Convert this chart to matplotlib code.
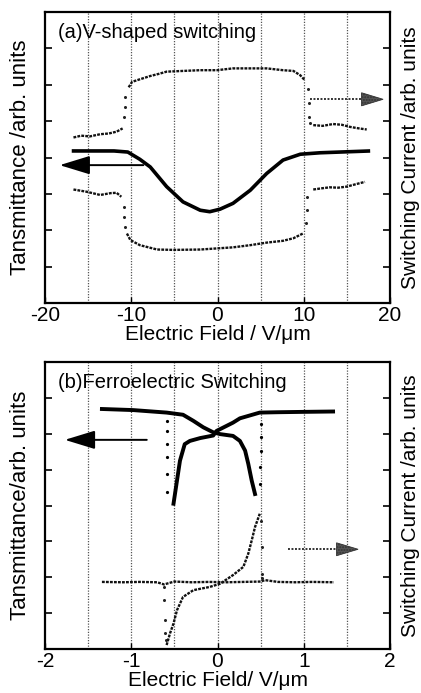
import matplotlib
matplotlib.use("Agg")
import matplotlib.pyplot as plt
from matplotlib.patches import Polygon

plt.rcParams['font.family'] = ['Liberation Sans', 'DejaVu Sans']
plt.rcParams['axes.unicode_minus'] = False

# ---------------- Panel (a) data ----------------
a_xticks = [-20, -10, 0, 10, 20]
a_grid = [-15, -10, -5, 0, 5, 10, 15]

a_T_x = [-16.9, -12.0, -10.4, -9.0, -7.8, -5.9, -4.0, -2.0, -0.9, 0.3, 1.8, 3.8, 5.7, 7.6, 9.6, 11.9, 17.7]
a_T_y = [4.18, 4.18, 4.15, 3.95, 3.74, 3.20, 2.78, 2.55, 2.51, 2.58, 2.74, 3.10, 3.56, 3.93, 4.09, 4.13, 4.18]

a_up_left_x = [-16.7, -15.8, -14.8, -13.6, -12.6, -11.7, -11.0]
a_up_left_y = [4.55, 4.60, 4.58, 4.64, 4.66, 4.71, 4.80]
a_up_jump1_x = [-10.8, -10.75, -10.7]
a_up_jump1_y = [5.12, 5.39, 5.67]
a_up_mid_x = [-10.3, -9.9, -9.0, -7.8, -6.8, -5.9, -4.0, -2.0, -0.1, 1.8, 3.8, 5.7, 7.6, 8.8, 9.6, 10.1]
a_up_mid_y = [5.93, 6.08, 6.15, 6.24, 6.30, 6.36, 6.38, 6.40, 6.40, 6.45, 6.45, 6.45, 6.40, 6.38, 6.26, 6.13]
a_up_jump2_x = [10.5, 10.6, 10.65, 10.7]
a_up_jump2_y = [5.87, 5.50, 5.10, 4.95]
a_up_right_x = [11.1, 12.2, 13.4, 14.4, 15.4, 16.4, 17.3]
a_up_right_y = [4.89, 4.87, 4.92, 4.90, 4.84, 4.80, 4.77]

a_lo_left_x = [-16.7, -15.2, -13.6, -12.4, -11.7, -11.15]
a_lo_left_y = [3.12, 3.06, 2.97, 3.02, 3.03, 2.92]
a_lo_jump1_x = [-10.85, -10.8, -10.75]
a_lo_jump1_y = [2.65, 2.37, 2.10]
a_lo_mid_x = [-10.5, -10.1, -9.0, -7.0, -5.1, -2.0, -0.1, 1.8, 3.8, 5.7, 7.6, 8.8, 9.9]
a_lo_mid_y = [1.91, 1.73, 1.59, 1.47, 1.46, 1.47, 1.50, 1.53, 1.59, 1.66, 1.71, 1.78, 1.91]
a_lo_jump2_x = [10.3, 10.35, 10.4]
a_lo_jump2_y = [2.19, 2.56, 2.92]
a_lo_right_x = [11.1, 12.0, 13.0, 14.0, 15.0, 16.1, 17.1]
a_lo_right_y = [3.12, 3.15, 3.18, 3.17, 3.20, 3.27, 3.33]

# ---------------- Panel (b) data ----------------
b_xticks = [-2, -1, 0, 1, 2]
b_grid = [-1.5, -1, -0.5, 0, 0.5, 1, 1.5]

b_T1_x = [-1.34, -0.98, -0.59, -0.40, -0.28, -0.165, -0.05, 0.03, 0.18, 0.26, 0.32, 0.357, 0.397, 0.435]
b_T1_y = [6.69, 6.66, 6.59, 6.53, 6.36, 6.18, 6.04, 5.99, 5.94, 5.80, 5.53, 5.16, 4.69, 4.32]
b_T1_jump_x = [0.49, 0.49, 0.50, 0.50, 0.50]
b_T1_jump_y = [4.60, 5.06, 5.53, 5.90, 6.27]
b_T2_x = [1.34, 1.0, 0.7, 0.49, 0.26, 0.18, -0.01, -0.05, -0.2, -0.32, -0.38, -0.435, -0.47, -0.51]
b_T2_y = [6.62, 6.61, 6.60, 6.59, 6.43, 6.31, 6.08, 5.95, 5.88, 5.80, 5.71, 5.25, 4.69, 4.05]
b_T2_jump_x = [-0.58, -0.58, -0.58, -0.58, -0.58, -0.58]
b_T2_jump_y = [6.36, 6.08, 5.71, 5.34, 4.88, 4.37]

b_base_x = [-1.34, -1.1, -0.9, -0.7, -0.62, -0.5, -0.3, -0.1, 0.1, 0.3, 0.5, 0.55, 0.7, 0.9, 1.1, 1.35]
b_base_y = [1.87, 1.86, 1.87, 1.86, 1.80, 1.88, 1.86, 1.87, 1.86, 1.87, 1.88, 1.92, 1.87, 1.86, 1.87, 1.86]
b_neg_jump_x = [-0.62, -0.62, -0.61, -0.61, -0.60]
b_neg_jump_y = [1.73, 1.36, 0.80, 0.45, 0.25]
b_S_x = [-0.59, -0.55, -0.51, -0.47, -0.40, -0.28, -0.09, 0.03, 0.18, 0.30, 0.357, 0.397, 0.435, 0.49]
b_S_y = [0.11, 0.44, 0.71, 1.08, 1.45, 1.64, 1.73, 1.82, 2.06, 2.29, 2.66, 3.03, 3.40, 3.77]
b_pos_jump_x = [0.51, 0.515, 0.52, 0.52]
b_pos_jump_y = [3.58, 2.84, 2.10, 1.97]

FIG_W, FIG_H = 421, 693
fig = plt.figure(figsize=(FIG_W / 100, FIG_H / 100), dpi=100)


def px_axes(left, top, right, bottom):
    return fig.add_axes([left / FIG_W, 1 - bottom / FIG_H, (right - left) / FIG_W, (bottom - top) / FIG_H])


def style(ax, xlim, xticks, grid):
    ax.set_xlim(*xlim)
    ax.set_ylim(0, 8)
    for g in grid:
        ax.axvline(g, ls=(0, (1, 1.2)), color='#555555', lw=0.9, zorder=0)
    ax.set_xticks(xticks)
    ax.set_xticklabels([str(t) for t in xticks])
    ax.set_yticks(range(1, 8))
    ax.tick_params(axis='y', direction='in', left=True, right=True, labelleft=False,
                   length=5, width=1.2)
    ax.tick_params(axis='x', direction='in', bottom=True, top=False, length=4, width=1.0,
                   labelsize=15, pad=2)
    for s in ax.spines.values():
        s.set_linewidth(1.6)


def cur(ax, x, y):
    ax.plot(x, y, color='#111111', lw=1.7, ls=(0, (1.2, 0.5)), zorder=3)


def dots(ax, x, y, ms=2.2, c='#222222'):
    ax.plot(x, y, ls='none', marker='o', ms=ms, mec='none', mfc=c, zorder=3)


def solid_arrow(ax, x_tail, x_tip, y):
    ax.annotate('', xy=(x_tip, y), xytext=(x_tail, y),
                arrowprops=dict(arrowstyle='-|>,head_length=0.85,head_width=0.26',
                                color='black', lw=1.4, mutation_scale=22,
                                shrinkA=0, shrinkB=0), zorder=4)


def dotted_arrow(ax, x_tail, x_base, x_tip, y, hh):
    ax.plot([x_tail, x_base], [y, y], ls=(0, (1, 0.8)), color='#333333', lw=1.4, zorder=4)
    tri = Polygon([(x_base, y + hh), (x_base, y - hh), (x_tip, y)], closed=True,
                  facecolor='#555555', edgecolor='#333333', hatch='......', lw=0.6, zorder=4)
    ax.add_patch(tri)


# ---------------- Panel (a) ----------------
axa = px_axes(45, 12, 390, 303)
style(axa, (-20, 20), a_xticks, a_grid)
axa.plot(a_T_x, a_T_y, color='black', lw=2.6, zorder=3, solid_capstyle='butt')
cur(axa, a_up_left_x, a_up_left_y)
dots(axa, a_up_jump1_x, a_up_jump1_y)
cur(axa, a_up_mid_x, a_up_mid_y)
dots(axa, a_up_jump2_x, a_up_jump2_y)
cur(axa, a_up_right_x, a_up_right_y)
cur(axa, a_lo_left_x, a_lo_left_y)
dots(axa, a_lo_jump1_x, a_lo_jump1_y)
cur(axa, a_lo_mid_x, a_lo_mid_y)
dots(axa, a_lo_jump2_x, a_lo_jump2_y)
cur(axa, a_lo_right_x, a_lo_right_y)
solid_arrow(axa, -8.6, -18.3, 3.79)
dotted_arrow(axa, 10.7, 16.7, 19.2, 5.6, 0.18)
axa.text(0.038, 0.928, '(a)V-shaped switching', transform=axa.transAxes,
         fontsize=14.5, ha='left', va='center')

# ---------------- Panel (b) ----------------
axb = px_axes(45, 362, 390, 649)
style(axb, (-2, 2), b_xticks, b_grid)
axb.plot(b_T1_x, b_T1_y, color='black', lw=2.8, zorder=3)
axb.plot(b_T2_x, b_T2_y, color='black', lw=2.8, zorder=3)
dots(axb, b_T1_jump_x, b_T1_jump_y, ms=2.3, c='black')
dots(axb, b_T2_jump_x, b_T2_jump_y, ms=2.3, c='black')
cur(axb, b_base_x, b_base_y)
dots(axb, b_neg_jump_x, b_neg_jump_y)
cur(axb, b_S_x, b_S_y)
dots(axb, b_pos_jump_x, b_pos_jump_y)
solid_arrow(axb, -0.82, -1.77, 5.83)
dotted_arrow(axb, 0.82, 1.38, 1.63, 2.78, 0.18)
axb.text(0.038, 0.930, '(b)Ferroelectric Switching', transform=axb.transAxes,
         fontsize=14.5, ha='left', va='center')

# ---------------- Axis labels ----------------
for top, bottom, left_lab, right_lab, xlab in [
        (12, 303, 'Tansmittance /arb. units', 'Switching Current /arb. units', 'Electric Field / V/\u03bcm'),
        (362, 649, 'Tansmittance/arb. units', 'Switching Current /arb. units', 'Electric Field/ V/\u03bcm')]:
    yc = 1 - (top + bottom) / 2 / FIG_H
    fig.text(21 / FIG_W, yc, left_lab, rotation=90, ha='center', va='center', fontsize=16)
    fig.text(410 / FIG_W, yc, right_lab, rotation=90, ha='center', va='center', fontsize=15)
    fig.text(217.5 / FIG_W, 1 - (bottom + 31) / FIG_H, xlab, ha='center', va='center', fontsize=15)

fig.savefig('out.png', dpi=100)
